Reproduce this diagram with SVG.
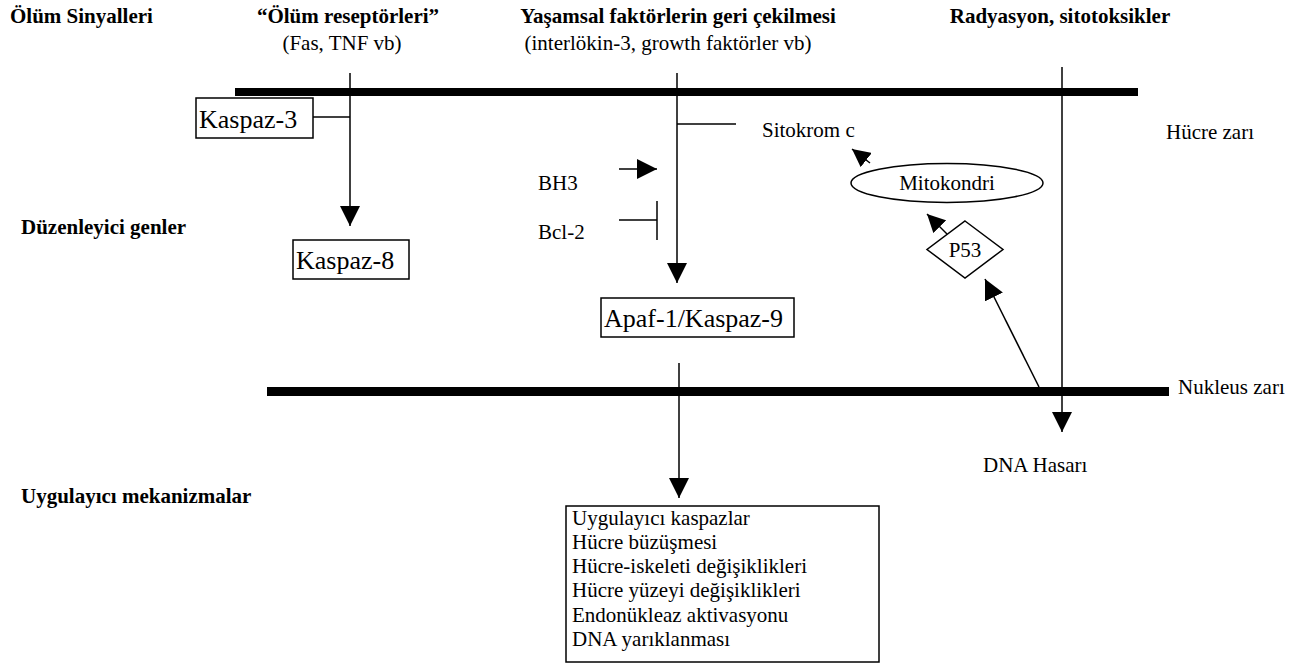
<svg xmlns="http://www.w3.org/2000/svg" width="1305" height="666" viewBox="0 0 1305 666">
<style>
text{font-family:'Liberation Serif','Times New Roman',serif;fill:#000;font-size:21px}
.b{font-weight:bold}
.big{font-size:26px}
.ln{stroke:#000;stroke-width:1.5;fill:none}
.shape{stroke:#000;stroke-width:1.5;fill:#fff}
</style>
<defs>
<marker id="ah" markerUnits="userSpaceOnUse" markerWidth="20" markerHeight="20" refX="20" refY="10" orient="auto" viewBox="0 0 20 20">
<path d="M0,0 L20,10 L0,20 z" fill="#000"/>
</marker>
<marker id="ahs" markerUnits="userSpaceOnUse" markerWidth="18" markerHeight="18" refX="18" refY="9" orient="auto" viewBox="0 0 18 18">
<path d="M0,0 L18,9 L0,18 z" fill="#000"/>
</marker>
</defs>
<g id="headers">
<text class="b" x="10" y="23">Ölüm Sinyalleri</text>
<text class="b" x="348" y="23" text-anchor="middle">“Ölüm reseptörleri”</text>
<text x="342" y="50" text-anchor="middle">(Fas, TNF vb)</text>
<text class="b" x="678" y="23" text-anchor="middle">Yaşamsal faktörlerin geri çekilmesi</text>
<text x="668" y="50" text-anchor="middle">(interlökin-3, growth faktörler vb)</text>
<text class="b" x="1060" y="23" text-anchor="middle">Radyasyon, sitotoksikler</text>
<text class="b" x="21" y="234">Düzenleyici genler</text>
<text class="b" x="21" y="503">Uygulayıcı mekanizmalar</text>
</g>
<g id="membranes">
<rect x="235" y="88" width="903" height="8" fill="#000"/>
<text x="1166" y="139">Hücre zarı</text>
<rect x="267" y="387" width="902" height="9" fill="#000"/>
<text x="1178" y="394">Nukleus zarı</text>
</g>
<g id="connectors">
<line class="ln" x1="350" y1="73" x2="350" y2="226" marker-end="url(#ah)"/>
<line class="ln" x1="313" y1="117" x2="350" y2="117"/>
<line class="ln" x1="677" y1="73" x2="677" y2="283" marker-end="url(#ah)"/>
<line class="ln" x1="677" y1="124" x2="736" y2="124"/>
<line class="ln" x1="619" y1="169" x2="657" y2="169" marker-end="url(#ah)"/>
<line class="ln" x1="619" y1="220" x2="657" y2="220"/>
<line class="ln" x1="657" y1="201" x2="657" y2="240"/>
<line class="ln" x1="679" y1="363" x2="679" y2="498" marker-end="url(#ah)"/>
<line class="ln" x1="1062" y1="67" x2="1062" y2="432" marker-end="url(#ah)"/>
<line class="ln" x1="870" y1="163" x2="852" y2="149" marker-end="url(#ahs)"/>
<line class="ln" x1="947" y1="234" x2="927" y2="214" marker-end="url(#ahs)"/>
<line class="ln" x1="1039" y1="387" x2="985" y2="279" marker-end="url(#ah)"/>
</g>
<g id="kaspaz3">
<rect class="shape" x="196" y="98" width="117" height="40"/>
<text class="big" x="199" y="128">Kaspaz-3</text>
</g>
<g id="kaspaz8">
<rect class="shape" x="293" y="240" width="116" height="39"/>
<text class="big" x="296" y="269">Kaspaz-8</text>
</g>
<g id="apaf">
<rect class="shape" x="601" y="298" width="193" height="39"/>
<text class="big" x="604" y="327">Apaf-1/Kaspaz-9</text>
</g>
<g id="bh3"><text x="538" y="190">BH3</text></g>
<g id="bcl2"><text x="538" y="239">Bcl-2</text></g>
<g id="sitokrom"><text x="762" y="137">Sitokrom c</text></g>
<g id="mitokondri">
<ellipse class="shape" cx="947" cy="183" rx="96" ry="19.5"/>
<text x="947" y="190" text-anchor="middle">Mitokondri</text>
</g>
<g id="p53">
<polygon class="shape" points="965,221 1003,249.5 965,278 927,249.5"/>
<text x="965" y="257" text-anchor="middle">P53</text>
</g>
<g id="dna"><text x="983" y="472">DNA Hasarı</text></g>
<g id="effects">
<rect class="shape" x="566" y="506" width="313" height="156"/>
<text x="572" y="525">Uygulayıcı kaspazlar</text>
<text x="572" y="549">Hücre büzüşmesi</text>
<text x="572" y="573">Hücre-iskeleti değişiklikleri</text>
<text x="572" y="597">Hücre yüzeyi değişiklikleri</text>
<text x="572" y="622">Endonükleaz aktivasyonu</text>
<text x="572" y="646">DNA yarıklanması</text>
</g>
</svg>
